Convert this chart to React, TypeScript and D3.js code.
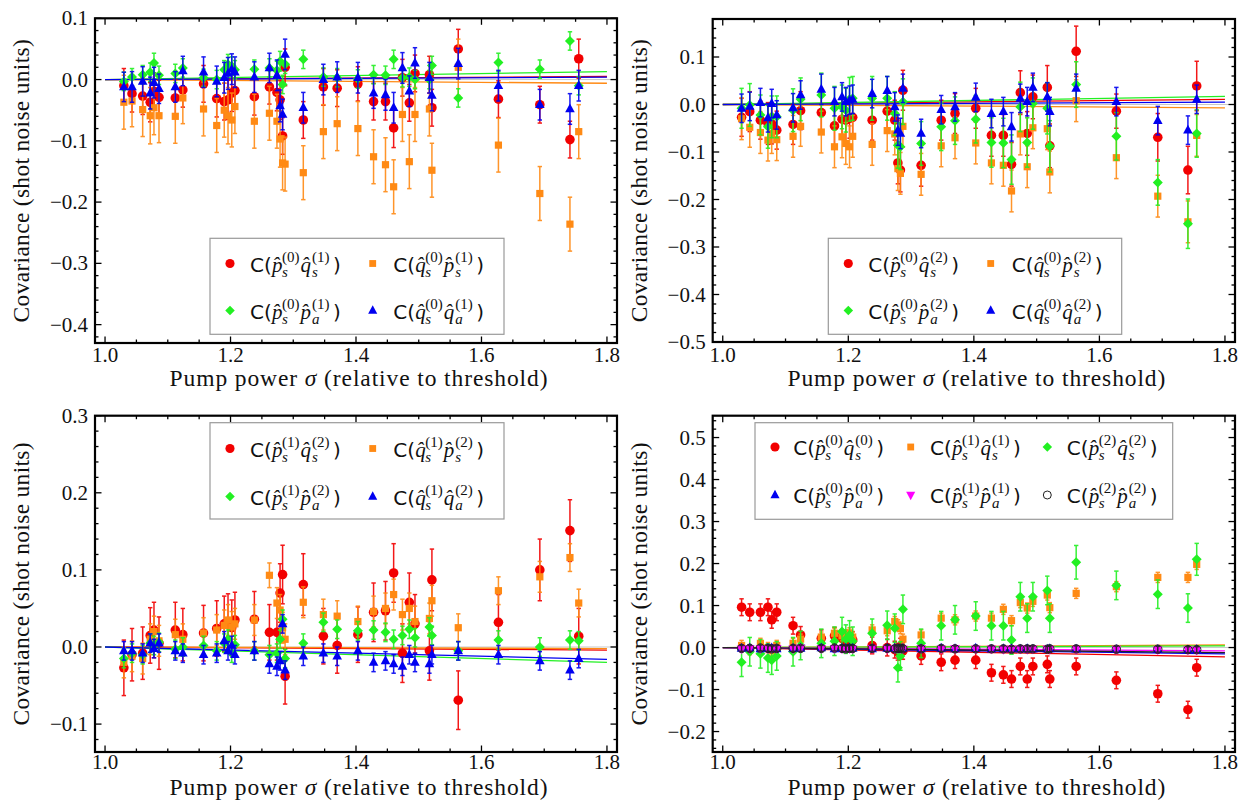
import React from "react";
import * as d3 from "d3";

// ---------------- DATA ----------------
const PUMP = [1.030, 1.043, 1.060, 1.072, 1.078, 1.086, 1.112, 1.124, 1.157, 1.178, 1.190, 1.196, 1.202, 1.207, 1.238, 1.262, 1.274, 1.279, 1.283, 1.287, 1.316, 1.348, 1.370, 1.403, 1.428, 1.447, 1.460, 1.474, 1.485, 1.494, 1.517, 1.521, 1.563, 1.627, 1.693, 1.741, 1.755];

// Panel 1 : (0)-(1) covariances
const P1_RED = [-0.010, -0.023, -0.027, -0.037, -0.019, -0.029, -0.030, -0.017, -0.007, -0.031, -0.036, -0.033, -0.022, -0.018, -0.028, -0.012, -0.021, -0.033, -0.092, 0.020, -0.066, -0.012, -0.014, -0.007, -0.036, -0.036, -0.079, 0.003, -0.038, 0.010, 0.008, -0.046, 0.050, -0.032, -0.041, -0.098, 0.034];
const P1_RED_ERR = [0.028, 0.030, 0.030, 0.032, 0.030, 0.028, 0.030, 0.028, 0.030, 0.030, 0.030, 0.032, 0.030, 0.030, 0.030, 0.028, 0.030, 0.032, 0.030, 0.030, 0.030, 0.030, 0.030, 0.028, 0.030, 0.030, 0.032, 0.030, 0.030, 0.030, 0.030, 0.030, 0.032, 0.030, 0.030, 0.030, 0.032];
const P1_ORA = [-0.037, -0.035, -0.049, -0.059, -0.046, -0.059, -0.060, -0.030, -0.048, -0.075, -0.050, -0.059, -0.066, -0.044, -0.068, -0.055, -0.068, -0.097, -0.136, -0.138, -0.152, -0.085, -0.072, -0.080, -0.126, -0.139, -0.175, -0.057, -0.134, -0.057, -0.048, -0.148, 0.020, -0.107, -0.186, -0.236, -0.085];
const P1_ORA_ERR = [0.044, 0.042, 0.044, 0.046, 0.044, 0.044, 0.044, 0.042, 0.044, 0.044, 0.044, 0.046, 0.044, 0.044, 0.044, 0.044, 0.044, 0.046, 0.044, 0.044, 0.044, 0.044, 0.044, 0.044, 0.044, 0.044, 0.044, 0.044, 0.044, 0.044, 0.044, 0.044, 0.046, 0.044, 0.044, 0.044, 0.044];
const P1_GRN = [-0.003, 0.004, 0.008, 0.012, 0.027, 0.007, 0.010, 0.019, 0.003, 0.000, 0.016, 0.025, 0.022, 0.016, 0.017, 0.019, 0.015, 0.030, -0.008, 0.025, 0.033, 0.004, 0.003, 0.001, 0.008, 0.007, 0.033, 0.003, 0.004, 0.000, 0.000, 0.023, -0.030, 0.028, 0.017, 0.063, -0.010];
const P1_GRN_ERR = [0.015, 0.014, 0.015, 0.015, 0.016, 0.015, 0.015, 0.015, 0.014, 0.015, 0.015, 0.016, 0.015, 0.015, 0.015, 0.015, 0.015, 0.016, 0.015, 0.015, 0.015, 0.015, 0.015, 0.015, 0.015, 0.015, 0.015, 0.015, 0.015, 0.015, 0.015, 0.015, 0.015, 0.015, 0.015, 0.015, 0.015];
const P1_BLU = [-0.012, -0.012, -0.003, -0.022, -0.005, -0.015, -0.012, 0.014, 0.012, -0.003, 0.003, 0.010, 0.017, 0.012, 0.004, 0.019, 0.007, -0.043, -0.057, 0.041, -0.046, 0.000, 0.004, 0.003, -0.022, -0.025, -0.046, 0.019, -0.019, 0.027, 0.003, -0.026, 0.026, -0.010, -0.041, -0.048, -0.010];
const P1_BLU_ERR = [0.024, 0.025, 0.024, 0.026, 0.025, 0.024, 0.025, 0.024, 0.025, 0.025, 0.025, 0.026, 0.025, 0.025, 0.025, 0.024, 0.025, 0.026, 0.025, 0.025, 0.025, 0.025, 0.025, 0.025, 0.025, 0.025, 0.025, 0.025, 0.025, 0.025, 0.025, 0.025, 0.025, 0.025, 0.025, 0.025, 0.025];

// Panel 2 : (0)-(2) covariances
const P2_RED = [-0.027, -0.015, -0.033, -0.040, -0.041, -0.054, -0.042, -0.013, -0.017, -0.045, -0.031, -0.033, -0.029, -0.027, -0.033, -0.014, -0.033, -0.123, -0.138, 0.030, -0.128, -0.033, -0.019, -0.008, -0.065, -0.065, -0.126, 0.025, -0.061, 0.016, 0.036, -0.087, 0.112, -0.014, -0.069, -0.138, 0.039];
const P2_RED_ERR = [0.040, 0.042, 0.040, 0.044, 0.042, 0.040, 0.042, 0.040, 0.042, 0.042, 0.042, 0.044, 0.042, 0.042, 0.042, 0.040, 0.042, 0.044, 0.046, 0.042, 0.044, 0.042, 0.042, 0.042, 0.044, 0.044, 0.046, 0.046, 0.046, 0.046, 0.046, 0.046, 0.053, 0.036, 0.050, 0.050, 0.052];
const P2_ORA = [-0.030, -0.048, -0.059, -0.075, -0.061, -0.074, -0.067, -0.046, -0.058, -0.089, -0.068, -0.082, -0.089, -0.067, -0.084, -0.055, -0.062, -0.135, -0.145, -0.046, -0.147, -0.087, -0.070, -0.081, -0.123, -0.128, -0.182, -0.062, -0.131, -0.049, -0.051, -0.142, 0.008, -0.112, -0.193, -0.247, -0.065];
const P2_ORA_ERR = [0.044, 0.042, 0.044, 0.044, 0.042, 0.044, 0.044, 0.042, 0.044, 0.044, 0.044, 0.044, 0.044, 0.044, 0.044, 0.044, 0.044, 0.046, 0.044, 0.044, 0.044, 0.044, 0.044, 0.044, 0.044, 0.044, 0.044, 0.044, 0.044, 0.044, 0.044, 0.044, 0.044, 0.044, 0.044, 0.044, 0.044];
const P2_GRN = [-0.008, -0.001, -0.022, -0.047, -0.026, -0.026, -0.012, 0.011, 0.020, -0.008, -0.005, -0.012, 0.011, 0.013, 0.013, 0.013, -0.019, -0.086, -0.089, 0.006, -0.082, -0.047, -0.034, -0.031, -0.080, -0.081, -0.116, -0.005, -0.080, 0.002, -0.008, -0.088, 0.042, -0.067, -0.164, -0.251, -0.061];
const P2_GRN_ERR = [0.042, 0.045, 0.042, 0.045, 0.044, 0.044, 0.045, 0.045, 0.046, 0.046, 0.046, 0.046, 0.046, 0.046, 0.046, 0.046, 0.046, 0.048, 0.048, 0.048, 0.046, 0.050, 0.050, 0.050, 0.052, 0.052, 0.052, 0.052, 0.052, 0.054, 0.054, 0.054, 0.048, 0.050, 0.048, 0.052, 0.050];
const P2_BLU = [-0.008, -0.004, 0.004, -0.028, 0.002, -0.022, -0.007, 0.020, 0.032, 0.006, 0.016, 0.006, 0.009, 0.011, 0.023, 0.029, -0.005, -0.054, -0.061, 0.034, -0.061, -0.011, -0.005, 0.015, -0.019, -0.015, -0.047, 0.013, 0.006, 0.036, 0.016, -0.015, 0.034, 0.006, -0.034, -0.054, 0.011];
const P2_BLU_ERR = [0.030, 0.030, 0.030, 0.030, 0.030, 0.030, 0.030, 0.030, 0.032, 0.030, 0.030, 0.030, 0.030, 0.030, 0.030, 0.030, 0.030, 0.032, 0.032, 0.030, 0.030, 0.030, 0.030, 0.030, 0.030, 0.030, 0.030, 0.030, 0.030, 0.030, 0.030, 0.030, 0.030, 0.030, 0.030, 0.030, 0.030];

// Panel 3 : (1)-(2) covariances
const P3_RED = [-0.027, -0.010, -0.008, 0.015, 0.022, 0.005, 0.022, 0.016, 0.018, 0.024, 0.030, 0.033, 0.025, 0.035, 0.036, 0.019, 0.019, 0.070, 0.094, -0.038, 0.081, 0.014, 0.002, 0.016, 0.045, 0.047, 0.096, -0.008, 0.058, 0.030, -0.005, 0.087, -0.069, 0.032, 0.100, 0.151, 0.014];
const P3_RED_ERR = [0.036, 0.034, 0.034, 0.036, 0.036, 0.034, 0.036, 0.034, 0.036, 0.036, 0.036, 0.036, 0.036, 0.036, 0.036, 0.036, 0.036, 0.038, 0.038, 0.036, 0.040, 0.036, 0.036, 0.036, 0.038, 0.038, 0.038, 0.038, 0.038, 0.038, 0.038, 0.040, 0.038, 0.036, 0.040, 0.040, 0.036];
const P3_ORA = [-0.020, -0.012, -0.015, 0.010, 0.020, 0.008, 0.016, 0.010, 0.018, 0.022, 0.028, 0.035, 0.026, 0.030, 0.035, 0.093, 0.057, 0.048, 0.025, 0.010, 0.058, 0.042, 0.040, 0.033, 0.046, 0.050, 0.068, 0.042, 0.050, 0.033, 0.037, 0.060, 0.025, 0.073, 0.091, 0.116, 0.057];
const P3_ORA_ERR = [0.020, 0.020, 0.020, 0.020, 0.020, 0.020, 0.020, 0.020, 0.020, 0.020, 0.020, 0.020, 0.020, 0.020, 0.020, 0.016, 0.020, 0.020, 0.020, 0.020, 0.020, 0.020, 0.020, 0.020, 0.020, 0.020, 0.020, 0.020, 0.020, 0.020, 0.020, 0.020, 0.018, 0.018, 0.020, 0.018, 0.018];
const P3_GRN = [-0.015, -0.008, -0.010, 0.005, 0.002, 0.006, -0.003, 0.000, 0.002, -0.005, 0.005, 0.010, -0.008, 0.003, -0.005, -0.010, -0.008, 0.010, 0.036, -0.015, 0.005, 0.032, 0.023, 0.021, 0.022, 0.019, 0.010, 0.015, 0.023, 0.012, 0.026, 0.015, -0.005, 0.009, 0.000, 0.009, 0.008];
const P3_GRN_ERR = [0.012, 0.012, 0.012, 0.012, 0.012, 0.012, 0.012, 0.012, 0.012, 0.012, 0.012, 0.012, 0.012, 0.012, 0.012, 0.012, 0.012, 0.012, 0.012, 0.012, 0.012, 0.012, 0.012, 0.012, 0.012, 0.012, 0.012, 0.012, 0.012, 0.012, 0.012, 0.012, 0.012, 0.012, 0.012, 0.012, 0.012];
const P3_BLU = [-0.005, -0.005, -0.008, 0.005, -0.002, 0.005, -0.005, -0.008, -0.010, -0.008, 0.008, -0.005, 0.002, -0.010, -0.005, -0.022, -0.025, -0.018, 0.030, -0.030, -0.012, -0.008, -0.012, -0.005, -0.020, -0.018, -0.022, -0.025, -0.010, -0.020, -0.022, -0.010, -0.005, -0.010, -0.018, -0.030, -0.015];
const P3_BLU_ERR = [0.012, 0.012, 0.012, 0.012, 0.012, 0.012, 0.012, 0.012, 0.012, 0.012, 0.012, 0.012, 0.012, 0.012, 0.012, 0.012, 0.012, 0.012, 0.012, 0.012, 0.012, 0.012, 0.012, 0.012, 0.012, 0.012, 0.012, 0.012, 0.012, 0.012, 0.012, 0.012, 0.012, 0.012, 0.012, 0.012, 0.012];

// Panel 4 : same-order covariances
const P4_RED = [0.096, 0.084, 0.084, 0.096, 0.066, 0.084, 0.052, 0.030, 0.022, 0.028, 0.022, 0.015, 0.010, 0.018, 0.005, 0.000, -0.005, -0.010, 0.002, -0.008, -0.020, -0.035, -0.030, -0.030, -0.060, -0.065, -0.075, -0.045, -0.075, -0.045, -0.040, -0.075, -0.045, -0.078, -0.110, -0.148, -0.048];
const P4_RED_ERR = [0.020, 0.020, 0.020, 0.020, 0.020, 0.020, 0.020, 0.020, 0.020, 0.020, 0.020, 0.020, 0.020, 0.020, 0.020, 0.020, 0.020, 0.020, 0.020, 0.020, 0.020, 0.020, 0.020, 0.020, 0.020, 0.020, 0.020, 0.020, 0.020, 0.020, 0.020, 0.020, 0.020, 0.020, 0.020, 0.020, 0.020];
const P4_ORA = [0.005, -0.005, 0.010, 0.000, -0.008, 0.005, 0.010, 0.020, 0.025, 0.034, 0.028, 0.030, 0.035, 0.025, 0.042, 0.040, 0.062, 0.054, 0.045, 0.020, 0.030, 0.070, 0.066, 0.075, 0.070, 0.091, 0.064, 0.107, 0.094, 0.110, 0.125, 0.095, 0.129, 0.145, 0.167, 0.167, 0.198];
const P4_ORA_ERR = [0.012, 0.012, 0.012, 0.012, 0.012, 0.012, 0.012, 0.012, 0.012, 0.012, 0.012, 0.012, 0.012, 0.012, 0.012, 0.012, 0.012, 0.012, 0.012, 0.012, 0.012, 0.012, 0.012, 0.012, 0.012, 0.012, 0.012, 0.012, 0.012, 0.012, 0.012, 0.012, 0.012, 0.012, 0.012, 0.012, 0.012];
const P4_GRN = [-0.035, -0.010, -0.015, -0.025, -0.030, -0.020, -0.010, 0.005, 0.010, 0.015, 0.038, 0.020, 0.030, 0.015, 0.034, 0.053, 0.046, -0.048, -0.020, 0.091, 0.010, 0.052, 0.066, 0.075, 0.052, 0.052, 0.018, 0.121, 0.070, 0.121, 0.136, 0.070, 0.203, 0.148, 0.127, 0.094, 0.210];
const P4_GRN_ERR = [0.034, 0.034, 0.034, 0.034, 0.034, 0.034, 0.034, 0.034, 0.034, 0.034, 0.034, 0.034, 0.034, 0.034, 0.034, 0.034, 0.034, 0.034, 0.034, 0.034, 0.034, 0.034, 0.034, 0.034, 0.034, 0.034, 0.034, 0.034, 0.034, 0.034, 0.034, 0.034, 0.040, 0.034, 0.034, 0.034, 0.038];
const P4_BLU = [-0.002, -0.001, -0.003, -0.002, -0.001, -0.003, -0.002, -0.002, -0.001, -0.003, -0.002, -0.002, -0.001, -0.002, -0.003, -0.002, -0.002, -0.003, -0.004, -0.002, -0.003, -0.002, -0.003, -0.002, -0.004, -0.003, -0.003, -0.004, -0.003, -0.004, -0.004, -0.003, -0.004, -0.005, -0.005, -0.006, -0.005];
const P4_MAG = [-0.003, -0.002, -0.002, -0.003, -0.002, -0.002, -0.003, -0.001, -0.002, -0.002, -0.003, -0.002, -0.002, -0.003, -0.002, -0.003, -0.003, -0.002, -0.003, -0.003, -0.002, -0.003, -0.002, -0.003, -0.003, -0.004, -0.003, -0.003, -0.004, -0.003, -0.003, -0.004, -0.004, -0.004, -0.005, -0.005, -0.006];
const P4_BLK = [-0.002, -0.002, -0.001, -0.002, -0.003, -0.002, -0.002, -0.002, -0.002, -0.001, -0.002, -0.003, -0.002, -0.002, -0.002, -0.002, -0.003, -0.002, -0.002, -0.003, -0.003, -0.002, -0.003, -0.003, -0.003, -0.003, -0.004, -0.003, -0.003, -0.003, -0.004, -0.003, -0.003, -0.004, -0.004, -0.005, -0.005];
const P4_SMALL_ERR = [0.007, 0.007, 0.007, 0.007, 0.007, 0.007, 0.007, 0.007, 0.007, 0.007, 0.007, 0.007, 0.007, 0.007, 0.007, 0.007, 0.007, 0.007, 0.007, 0.007, 0.007, 0.007, 0.007, 0.007, 0.007, 0.007, 0.007, 0.007, 0.007, 0.007, 0.007, 0.007, 0.007, 0.007, 0.007, 0.007, 0.007];

// fitted/theory lines: value at sigma = 1.8 (starting from 0 at sigma = 1)
const P1_FIT = [0.005, -0.006, 0.013, 0.004];
const P2_FIT = [0.011, -0.007, 0.017, 0.005];
const P3_FIT = [-0.004, -0.002, -0.020, -0.016];
const P4_FIT = [-0.022, 0.006, 0.004, -0.015, -0.008, -0.012];

// legend labels: [op1, sub1, order1, op2, sub2, order2]
const P1_LABELS = [["p", "s", "0", "q", "s", "1"], ["q", "s", "0", "p", "s", "1"], ["p", "s", "0", "p", "a", "1"], ["q", "s", "0", "q", "a", "1"]];
const P2_LABELS = [["p", "s", "0", "q", "s", "2"], ["q", "s", "0", "p", "s", "2"], ["p", "s", "0", "p", "a", "2"], ["q", "s", "0", "q", "a", "2"]];
const P3_LABELS = [["p", "s", "1", "q", "s", "2"], ["q", "s", "1", "p", "s", "2"], ["p", "s", "1", "p", "a", "2"], ["q", "s", "1", "q", "a", "2"]];
const P4_LABELS = [["p", "s", "0", "q", "s", "0"], ["p", "s", "1", "q", "s", "1"], ["p", "s", "2", "q", "s", "2"], ["p", "s", "0", "p", "a", "0"], ["p", "s", "1", "p", "a", "1"], ["p", "s", "2", "p", "a", "2"]];

const X_TITLE_A = "Pump power ";
const X_TITLE_SIGMA = "\u03C3";
const X_TITLE_B = " (relative to threshold)";
const Y_TITLE = "Covariance (shot noise units)";

// ---------------- STYLE ----------------
const RED = "#f20000";
const ORANGE = "#ff8a14";
const GREEN = "#22f022";
const BLUE = "#0000f0";
const MAGENTA = "#ff00ff";
const BLACK = "#222222";
const SERIF = "'Liberation Serif', 'Times New Roman', serif";
const SANS = "'DejaVu Sans', sans-serif";
const TITLE_SIZE = 23.5;

type Shape = "circle" | "square" | "diamond" | "up" | "down" | "open";
interface Series { vals: number[]; errs: number[]; color: string; shape: Shape; fit: number; label: string[]; }
interface PanelSpec {
  frame: { l: number; t: number; r: number; b: number };
  yDomain: [number, number];
  series: Series[];
  legend: { box: [number, number, number, number]; markerX: number[]; textX: number[]; rowY: number[] };
  titleX: number;
  xTickY: number;
  xTitleY: number;
}

function mk(vals: number[], errs: number[], color: string, shape: Shape, fit: number, label: string[]): Series {
  return { vals, errs, color, shape, fit, label };
}

const PANELS: PanelSpec[] = [
  {
    frame: { l: 95, t: 18.3, r: 617, b: 343 },
    yDomain: [-0.43, 0.1],
    series: [
      mk(P1_RED, P1_RED_ERR, RED, "circle", P1_FIT[0], P1_LABELS[0]),
      mk(P1_ORA, P1_ORA_ERR, ORANGE, "square", P1_FIT[1], P1_LABELS[1]),
      mk(P1_GRN, P1_GRN_ERR, GREEN, "diamond", P1_FIT[2], P1_LABELS[2]),
      mk(P1_BLU, P1_BLU_ERR, BLUE, "up", P1_FIT[3], P1_LABELS[3]),
    ],
    legend: { box: [210, 238.3, 294, 96], markerX: [230, 372.7], textX: [250, 393.3], rowY: [271.5, 318.5] },
    titleX: 29,
    xTickY: 362,
    xTitleY: 386,
  },
  {
    frame: { l: 712.7, t: 19, r: 1235, b: 342 },
    yDomain: [-0.5, 0.18],
    series: [
      mk(P2_RED, P2_RED_ERR, RED, "circle", P2_FIT[0], P2_LABELS[0]),
      mk(P2_ORA, P2_ORA_ERR, ORANGE, "square", P2_FIT[1], P2_LABELS[1]),
      mk(P2_GRN, P2_GRN_ERR, GREEN, "diamond", P2_FIT[2], P2_LABELS[2]),
      mk(P2_BLU, P2_BLU_ERR, BLUE, "up", P2_FIT[3], P2_LABELS[3]),
    ],
    legend: { box: [828.3, 238.3, 293.4, 96], markerX: [848.3, 990.7], textX: [868.3, 1011.7], rowY: [271.5, 318.5] },
    titleX: 646.7,
    xTickY: 362,
    xTitleY: 386,
  },
  {
    frame: { l: 95, t: 415.7, r: 617, b: 752 },
    yDomain: [-0.1362, 0.3],
    series: [
      mk(P3_RED, P3_RED_ERR, RED, "circle", P3_FIT[0], P3_LABELS[0]),
      mk(P3_ORA, P3_ORA_ERR, ORANGE, "square", P3_FIT[1], P3_LABELS[1]),
      mk(P3_GRN, P3_GRN_ERR, GREEN, "diamond", P3_FIT[2], P3_LABELS[2]),
      mk(P3_BLU, P3_BLU_ERR, BLUE, "up", P3_FIT[3], P3_LABELS[3]),
    ],
    legend: { box: [210, 422.7, 294, 96.3], markerX: [230, 372.7], textX: [250, 393.3], rowY: [456.5, 504.5] },
    titleX: 29,
    xTickY: 769,
    xTitleY: 794.6,
  },
  {
    frame: { l: 712.7, t: 415.7, r: 1235, b: 752 },
    yDomain: [-0.2487, 0.552],
    series: [
      mk(P4_RED, P4_RED_ERR, RED, "circle", P4_FIT[0], P4_LABELS[0]),
      mk(P4_ORA, P4_ORA_ERR, ORANGE, "square", P4_FIT[1], P4_LABELS[1]),
      mk(P4_GRN, P4_GRN_ERR, GREEN, "diamond", P4_FIT[2], P4_LABELS[2]),
      mk(P4_BLU, P4_SMALL_ERR, BLUE, "up", P4_FIT[3], P4_LABELS[3]),
      mk(P4_MAG, P4_SMALL_ERR, MAGENTA, "down", P4_FIT[4], P4_LABELS[4]),
      mk(P4_BLK, P4_SMALL_ERR, BLACK, "open", P4_FIT[5], P4_LABELS[5]),
    ],
    legend: { box: [755, 422.7, 417.7, 96.6], markerX: [775, 910.7, 1047.3], textX: [793.3, 930, 1066.7], rowY: [455, 503] },
    titleX: 646.7,
    xTickY: 769,
    xTitleY: 794.6,
  },
];

const X_DOMAIN: [number, number] = [0.984, 1.816];
const X_MAJOR = [1.0, 1.2, 1.4, 1.6, 1.8];
const X_MINOR = d3.range(1.0, 1.8001, 0.05);
const FIT_X: [number, number] = [1.0, 1.8];

// ---------------- COMPONENTS ----------------
function Marker({ shape, color, x, y, k = 1 }: { shape: Shape; color: string; x: number; y: number; k?: number }) {
  switch (shape) {
    case "circle":
      return <circle cx={x} cy={y} r={4.8 * k} fill={color} />;
    case "open":
      return <circle cx={x} cy={y} r={4.2 * k} fill="none" stroke={color} strokeWidth={1} />;
    case "square": {
      const s = 3.6 * k;
      return <rect x={x - s} y={y - s} width={2 * s} height={2 * s} fill={color} />;
    }
    case "diamond": {
      const s = 5 * k;
      return <path d={`M${x},${y - s}L${x + s},${y}L${x},${y + s}L${x - s},${y}Z`} fill={color} />;
    }
    case "up": {
      const s = 4.8 * k;
      return <path d={`M${x},${y - s * 1.15}L${x + s},${y + s * 0.7}L${x - s},${y + s * 0.7}Z`} fill={color} />;
    }
    case "down": {
      const s = 4.8 * k;
      return <path d={`M${x},${y + s * 1.15}L${x + s},${y - s * 0.7}L${x - s},${y - s * 0.7}Z`} fill={color} />;
    }
  }
  return null;
}

function OpLabel({ x, y, spec }: { x: number; y: number; spec: string[] }) {
  const [o1, s1, n1, o2, s2, n2] = spec;
  return (
    <g fill="#111">
      <text x={x} y={y} fontFamily={SANS} fontSize={20}>C(</text>
      <text x={x + 22} y={y} fontFamily={SERIF} fontStyle="italic" fontSize={21}>{o1 + "\u0302"}</text>
      <text x={x + 32} y={y + 5} fontFamily={SERIF} fontStyle="italic" fontSize={15}>{s1}</text>
      <text x={x + 32} y={y - 10} fontFamily={SERIF} fontSize={15}>{"(" + n1 + ")"}</text>
      <text x={x + 50.5} y={y} fontFamily={SERIF} fontStyle="italic" fontSize={21}>{o2 + "\u0302"}</text>
      <text x={x + 62} y={y + 5} fontFamily={SERIF} fontStyle="italic" fontSize={15}>{s2}</text>
      <text x={x + 62} y={y - 10} fontFamily={SERIF} fontSize={15}>{"(" + n2 + ")"}</text>
      <text x={x + 83} y={y} fontFamily={SANS} fontSize={20}>)</text>
    </g>
  );
}

function Panel({ p }: { p: PanelSpec }) {
  const { l, t, r, b } = p.frame;
  const xs = d3.scaleLinear().domain(X_DOMAIN).range([l, r]);
  const ys = d3.scaleLinear().domain(p.yDomain).range([b, t]);
  const fmt = d3.format(".1f");
  const yMinor = d3.range(Math.ceil(p.yDomain[0] / 0.02 - 1e-6) * 0.02, p.yDomain[1] + 1e-9, 0.02);
  const isMajorY = (v: number) => Math.abs(v / 0.1 - Math.round(v / 0.1)) < 1e-6;
  const yMajor = yMinor.filter(isMajorY);
  const line = d3.line<[number, number]>().x((d) => xs(d[0])).y((d) => ys(d[1]));
  const clipId = `clip-${Math.round(l)}-${Math.round(t)}`;
  const MAJ = 6.5, MIN = 3.5;
  const nCols = p.legend.markerX.length;

  return (
    <g>
      <defs>
        <clipPath id={clipId}>
          <rect x={l} y={t} width={r - l} height={b - t} />
        </clipPath>
      </defs>
      <g clipPath={`url(#${clipId})`}>
        <line x1={xs(1.0)} x2={r} y1={ys(0)} y2={ys(0)} stroke="#c8c8c8" strokeWidth={1} />
        {p.series.map((s, i) => (
          <path key={"fit" + i} d={line([[FIT_X[0], 0], [FIT_X[1], s.fit]]) || ""} stroke={s.color} strokeWidth={1.3} fill="none" />
        ))}
        {p.series.map((s, si) => (
          <g key={"s" + si}>
            {s.vals.map((v, i) => {
              const cx = xs(PUMP[i]);
              const y1 = ys(v + s.errs[i]);
              const y2 = ys(v - s.errs[i]);
              return (
                <g key={i} stroke={s.color} strokeWidth={1.5} opacity={0.9}>
                  <line x1={cx} x2={cx} y1={y1} y2={y2} />
                  <line x1={cx - 2.2} x2={cx + 2.2} y1={y1} y2={y1} />
                  <line x1={cx - 2.2} x2={cx + 2.2} y1={y2} y2={y2} />
                </g>
              );
            })}
            {s.vals.map((v, i) => (
              <Marker key={"m" + i} shape={s.shape} color={s.color} x={xs(PUMP[i])} y={ys(v)} />
            ))}
          </g>
        ))}
      </g>
      {/* ticks */}
      <g stroke="#000" strokeWidth={1.3}>
        {X_MINOR.map((v, i) => {
          const major = X_MAJOR.some((m) => Math.abs(m - v) < 1e-6);
          const len = major ? MAJ : MIN;
          return (
            <g key={"xt" + i}>
              <line x1={xs(v)} x2={xs(v)} y1={b} y2={b - len} />
              <line x1={xs(v)} x2={xs(v)} y1={t} y2={t + len} />
            </g>
          );
        })}
        {yMinor.map((v, i) => {
          const len = isMajorY(v) ? MAJ : MIN;
          return (
            <g key={"yt" + i}>
              <line x1={l} x2={l + len} y1={ys(v)} y2={ys(v)} />
              <line x1={r} x2={r - len} y1={ys(v)} y2={ys(v)} />
            </g>
          );
        })}
      </g>
      <rect x={l} y={t} width={r - l} height={b - t} fill="none" stroke="#000" strokeWidth={2.2} />
      {/* tick labels */}
      <g fontFamily={SERIF} fontSize={21} fill="#111">
        {X_MAJOR.map((v) => (
          <text key={"xl" + v} x={xs(v)} y={p.xTickY} textAnchor="middle">{fmt(v)}</text>
        ))}
        {yMajor.map((v, i) => (
          <text key={"yl" + i} x={l - 7} y={ys(v) + 7} textAnchor="end">{fmt(Math.abs(v) < 1e-9 ? 0 : v)}</text>
        ))}
      </g>
      <text x={(l + r) / 2 + 3} y={p.xTitleY} textAnchor="middle" fontFamily={SERIF} fontSize={TITLE_SIZE} letterSpacing={0.9} fill="#111">
        {X_TITLE_A}
        <tspan fontStyle="italic">{X_TITLE_SIGMA}</tspan>
        {X_TITLE_B}
      </text>
      <text transform={`translate(${p.titleX},${(t + b) / 2}) rotate(-90)`} textAnchor="middle" fontFamily={SERIF} fontSize={TITLE_SIZE} letterSpacing={0.3} fill="#111">{Y_TITLE}</text>
      {/* legend */}
      <rect x={p.legend.box[0]} y={p.legend.box[1]} width={p.legend.box[2]} height={p.legend.box[3]} fill="#fff" stroke="#9a9a9a" strokeWidth={1.2} />
      {p.series.map((s, i) => {
        const row = Math.floor(i / nCols);
        const col = i % nCols;
        const by = p.legend.rowY[row];
        return (
          <g key={"lg" + i}>
            <Marker shape={s.shape} color={s.color} x={p.legend.markerX[col]} y={by - 8} k={0.95} />
            <OpLabel x={p.legend.textX[col]} y={by} spec={s.label} />
          </g>
        );
      })}
    </g>
  );
}

export default function App() {
  return (
    <div style={{ position: "absolute", left: 0, top: 0 }}>
      <svg width={1247} height={800} style={{ display: "block", background: "#fff" }}>
        {PANELS.map((p, i) => (
          <Panel key={i} p={p} />
        ))}
      </svg>
    </div>
  );
}
